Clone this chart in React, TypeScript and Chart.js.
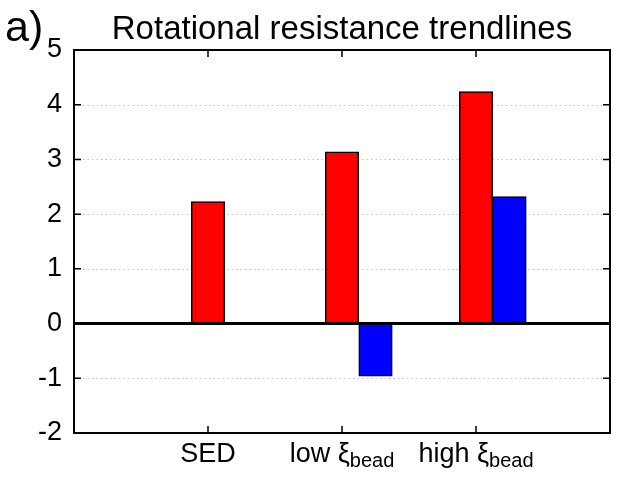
import { useEffect, useRef } from 'react';
import { Chart, registerables } from 'chart.js';

Chart.register(...registerables);

const FONT = '"Liberation Sans", Arial, sans-serif';

// data
const labelMain = ['SED', 'low ξ', 'high ξ'];
const labelSub = ['', 'bead', 'bead'];
const redValues = [2.23, 3.14, 4.24];
const blueValues: (number | null)[] = [null, -0.96, 2.32];
const yTicks = [-2, -1, 0, 1, 2, 3, 4, 5];

const Y_MIN = -2;
const Y_MAX = 5;
const BLUE_SHIFT = 0.25;

const framePlugin = {
  id: 'gnuplotFrame',
  beforeDatasetsDraw(chart: any) {
    const { ctx, chartArea: a, scales } = chart;
    const y = scales.y;
    ctx.save();
    ctx.strokeStyle = '#c4c4c4';
    ctx.lineWidth = 1;
    ctx.setLineDash([1.5, 3]);
    yTicks.forEach(v => {
      if (v === 0 || v === Y_MIN || v === Y_MAX) return;
      const py = Math.round(y.getPixelForValue(v)) + 0.5;
      ctx.beginPath();
      ctx.moveTo(a.left, py);
      ctx.lineTo(a.right, py);
      ctx.stroke();
    });
    ctx.restore();
  },
  afterDatasetsDraw(chart: any) {
    const { ctx, chartArea: a, scales } = chart;
    const x = scales.x;
    const y = scales.y;
    ctx.save();

    // zero line
    const y0 = y.getPixelForValue(0);
    ctx.strokeStyle = '#000';
    ctx.lineWidth = 3;
    ctx.beginPath();
    ctx.moveTo(a.left, y0);
    ctx.lineTo(a.right, y0);
    ctx.stroke();

    // box
    ctx.lineWidth = 2;
    ctx.strokeRect(a.left, a.top, a.right - a.left, a.bottom - a.top);

    // inward ticks
    ctx.lineWidth = 1.5;
    const tl = 7;
    yTicks.forEach(v => {
      const py = y.getPixelForValue(v);
      ctx.beginPath();
      ctx.moveTo(a.left, py);
      ctx.lineTo(a.left + tl, py);
      ctx.moveTo(a.right, py);
      ctx.lineTo(a.right - tl, py);
      ctx.stroke();
    });
    labelMain.forEach((_, i) => {
      const px = x.getPixelForValue(i + 1);
      ctx.beginPath();
      ctx.moveTo(px, a.bottom);
      ctx.lineTo(px, a.bottom - tl);
      ctx.moveTo(px, a.top);
      ctx.lineTo(px, a.top + tl);
      ctx.stroke();
    });

    // category labels with subscripts
    ctx.fillStyle = '#000';
    ctx.textAlign = 'left';
    ctx.textBaseline = 'alphabetic';
    labelMain.forEach((text, i) => {
      const cx = x.getPixelForValue(i + 1);
      ctx.font = `27px ${FONT}`;
      const mw = ctx.measureText(text).width;
      ctx.font = `20px ${FONT}`;
      const sw = labelSub[i] ? ctx.measureText(labelSub[i]).width : 0;
      const left = cx - (mw + sw) / 2;
      ctx.font = `27px ${FONT}`;
      ctx.fillText(text, left, a.bottom + 29);
      if (labelSub[i]) {
        ctx.font = `20px ${FONT}`;
        ctx.fillText(labelSub[i], left + mw, a.bottom + 34);
      }
    });

    // panel letter
    ctx.font = `43px ${FONT}`;
    ctx.fillText('a)', 5, 41);
    ctx.restore();
  }
};

export default function App() {
  const canvasRef = useRef<HTMLCanvasElement>(null);
  const chartRef = useRef<Chart | null>(null);

  useEffect(() => {
    document.body.style.margin = '0';
    if (chartRef.current) {
      chartRef.current.destroy();
      chartRef.current = null;
    }
    if (!canvasRef.current) return;

    Chart.defaults.font.family = FONT;
    Chart.defaults.color = '#000';

    const redData = redValues.map((v, i) => ({ x: i + 1, y: v }));
    const blueData = blueValues
      .map((v, i) => ({ x: i + 1 + BLUE_SHIFT, y: v }))
      .filter(p => p.y !== null);

    chartRef.current = new Chart(canvasRef.current, {
      type: 'bar',
      data: {
        datasets: [
          {
            data: redData as any,
            backgroundColor: '#ff0000',
            borderColor: '#000',
            borderWidth: 1.5,
            borderSkipped: false,
            barThickness: 33.5,
            grouped: false
          },
          {
            data: blueData as any,
            backgroundColor: '#0000ff',
            borderColor: '#000',
            borderWidth: 1.5,
            borderSkipped: false,
            barThickness: 33.5,
            grouped: false
          }
        ]
      },
      options: {
        responsive: true,
        maintainAspectRatio: false,
        animation: false,
        layout: { padding: { left: 0, right: 30, top: 0, bottom: 47 } },
        plugins: {
          legend: { display: false },
          tooltip: { enabled: false },
          title: {
            display: true,
            text: 'Rotational resistance trendlines',
            fullSize: false,
            color: '#000',
            font: { size: 33, weight: 'normal', family: FONT, lineHeight: 1.2 },
            padding: { top: 10, bottom: 0.4 }
          }
        },
        scales: {
          x: {
            type: 'linear',
            display: false,
            min: 0,
            max: 4,
            offset: false
          },
          y: {
            min: Y_MIN,
            max: Y_MAX,
            afterBuildTicks: (scale: any) => {
              scale.ticks = yTicks.map(v => ({ value: v }));
            },
            afterFit: (scale: any) => {
              scale.width = 74;
            },
            ticks: {
              font: { size: 27, family: FONT },
              color: '#000',
              padding: 12
            },
            grid: { display: false, drawTicks: false },
            border: { display: false }
          }
        }
      },
      plugins: [framePlugin]
    });

    return () => {
      if (chartRef.current) {
        chartRef.current.destroy();
        chartRef.current = null;
      }
    };
  }, []);

  return (
    <div style={{ position: 'relative', width: 640, height: 480, background: '#fff' }}>
      <canvas ref={canvasRef} />
    </div>
  );
}
